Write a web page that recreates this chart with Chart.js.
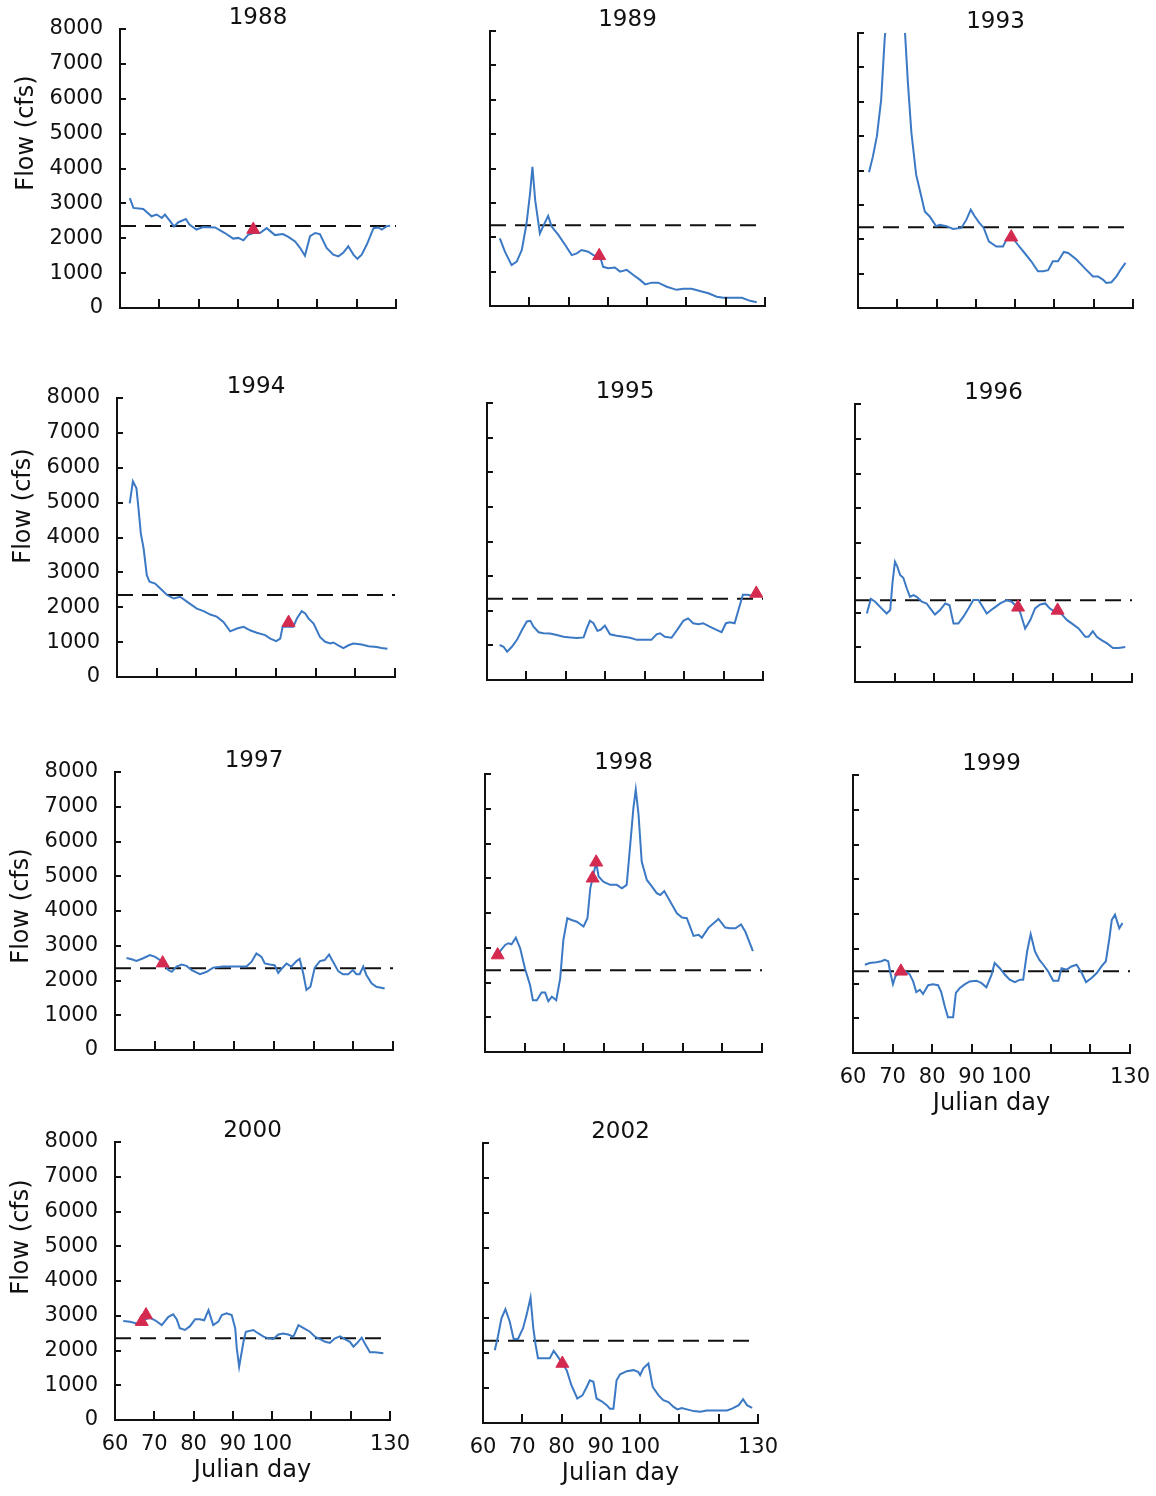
<!DOCTYPE html>
<html>
<head>
<meta charset="utf-8">
<title>Flow by Julian day</title>
<script src="https://cdn.jsdelivr.net/npm/chart.js@4.4.1/dist/chart.umd.min.js"></script>
<style>
  body { margin: 0; background: #fff; }
  #wrap { position: relative; width: 1156px; height: 1496px; overflow: hidden; }
  #wrap canvas { position: absolute; }
</style>
</head>
<body>
<div id="wrap"></div>
<script>
// flow (cfs) by Julian day, one list of [day, flow] per year
const threshold = 2350;
const xLabelDays = [60, 70, 80, 90, 100, 130];

const flow1988 = [[62.5,3150],[63.4,2870],[65.9,2840],[68,2630],[69.3,2680],[70.6,2580],[71.4,2680],[72.7,2490],[73.7,2340],[74.8,2460],[76.7,2550],[77.6,2390],[79.4,2250],[81.1,2320],[84.1,2310],[86.6,2150],[88.7,1990],[90,2010],[91.3,1940],[92.5,2100],[93.8,2150],[95.5,2150],[97.2,2290],[99.3,2090],[101.3,2120],[102.7,2040],[104.4,1910],[105.7,1720],[106.9,1500],[108.2,2060],[109.5,2150],[110.7,2120],[112.4,1720],[114.1,1530],[115.4,1480],[116.6,1580],[117.9,1770],[119.2,1530],[120.2,1410],[121.3,1530],[122.6,1820],[124.3,2290],[125.5,2310],[126.4,2250],[127.6,2340],[128.5,2360]];
const marks1988 = [[93.8,2250]];

const flow1989 = [[62.5,1970],[63.8,1580],[65.5,1190],[66.8,1290],[68.1,1630],[69.3,2400],[70.2,3280],[70.8,4050],[71.5,3080],[72.7,2110],[73.7,2360],[74.8,2620],[75.7,2310],[77.4,2070],[79.1,1780],[80.8,1480],[82.1,1530],[83.3,1630],[85,1580],[86.3,1480],[88,1440],[88.8,1140],[90.1,1100],[91.8,1120],[93.1,1000],[94.8,1050],[96.5,900],[98.2,760],[99.5,630],[101.2,680],[102.8,680],[105,560],[107.5,470],[109.2,500],[111.3,500],[113.9,420],[115.6,370],[117.7,270],[119.4,240],[121.9,240],[124.1,240],[126.2,150],[127.9,110]];
const marks1989 = [[87.8,1460]];

const flow1993 = [[62.8,3950],[63.8,4410],[64.8,4990],[65.9,6060],[66.8,7850],[69.5,11000],[72.0,7950],[72.7,6550],[73.6,5090],[74.8,3880],[76.1,3250],[77,2810],[78.2,2670],[79.1,2520],[79.9,2380],[80.8,2420],[82.5,2380],[84.2,2300],[86.3,2330],[87.6,2570],[88.7,2860],[89.7,2670],[90.8,2490],[92,2330],[93.3,1940],[95.2,1790],[96.9,1790],[97.8,1990],[99,2090],[100.7,1840],[102.4,1600],[104.1,1360],[105.8,1070],[107.1,1070],[108.4,1100],[109.6,1360],[110.9,1360],[112.4,1630],[113.5,1600],[115.6,1410],[117.7,1160],[119.8,920],[121.1,920],[122.4,820],[123.2,730],[124.5,750],[125.8,920],[127,1140],[128.1,1310]];
const marks1993 = [[99,2060]];

const flow1994 = [[63.2,4980],[64.0,5610],[64.9,5410],[65.4,4840],[66,4120],[66.7,3690],[67.5,2920],[68.2,2730],[69.6,2680],[70.9,2540],[72.6,2350],[74.3,2250],[75.9,2300],[77.6,2160],[80.1,1960],[81.8,1890],[83.5,1790],[85.1,1730],[86.8,1580],[88.5,1310],[90.2,1390],[91.9,1440],[93.5,1340],[95.2,1270],[97.3,1200],[98.6,1100],[100.1,1030],[101.1,1100],[101.7,1440],[102.8,1440],[104.4,1440],[105.3,1680],[106.5,1890],[107.4,1820],[108.2,1680],[109.5,1530],[111.1,1150],[112.4,1010],[113.7,960],[114.5,990],[115.7,910],[117,830],[118.3,910],[119.5,960],[121.6,930],[123.3,880],[125.4,860],[126.6,830],[128.1,810]];
const marks1994 = [[103.2,1560]];

const flow1995 = [[63.2,1010],[64.2,960],[65.1,820],[66.3,960],[67.6,1160],[68.9,1450],[70.1,1690],[71.0,1710],[71.8,1540],[73.1,1380],[74.3,1350],[76,1340],[77.7,1300],[79.4,1250],[81.1,1230],[82.8,1210],[84.5,1230],[85.3,1490],[86.1,1710],[87,1640],[88,1420],[88.8,1450],[89.9,1570],[91.2,1320],[92.9,1280],[94.6,1250],[96.3,1220],[98,1160],[99.6,1160],[101.7,1160],[103,1320],[103.9,1350],[105.1,1250],[106.8,1220],[108.5,1490],[109.8,1710],[111,1780],[112.3,1640],[113.6,1610],[114.8,1640],[116.5,1540],[118.2,1450],[119.5,1380],[120.6,1640],[121.6,1670],[122.8,1640],[123.9,2070],[124.9,2460],[126,2460],[127,2440]];
const marks1995 = [[128.3,2500]];

const flow1996 = [[63,1970],[64,2390],[65.1,2310],[66.7,2120],[68,1970],[68.9,2070],[69.5,2890],[70.1,3460],[70.7,3320],[71.4,3080],[72.2,3000],[73.1,2690],[73.9,2450],[74.8,2500],[75.6,2450],[76.9,2310],[78.1,2260],[79,2120],[80.2,1940],[81.5,2070],[82.8,2260],[83.9,2210],[84.9,1680],[86.1,1680],[87.4,1880],[88.7,2120],[89.9,2360],[91.2,2360],[93.3,1970],[95,2120],[96.7,2260],[98.4,2360],[99.6,2310],[100.9,2160],[101.7,2020],[103,1540],[104.3,1780],[105.5,2120],[106.8,2230],[108.1,2260],[109.2,2120],[110.2,2040],[111.2,2070],[112.3,1940],[113.6,1780],[115.2,1650],[116.5,1540],[118.2,1300],[119,1300],[120.1,1460],[121.1,1300],[122.4,1200],[123.7,1110],[125.2,980],[126.6,980],[128.3,1010]];
const marks1996 = [[101.2,2150],[111.2,2060]];

const flow1997 = [[62.9,2650],[64.2,2610],[65.4,2560],[67.1,2640],[68.8,2730],[70.1,2680],[71.3,2590],[72.6,2440],[73.4,2300],[74.3,2250],[75.5,2400],[76.8,2460],[78,2420],[79.3,2300],[81.4,2180],[83.1,2250],[84.7,2370],[87.2,2400],[89.8,2400],[93.1,2400],[94.4,2540],[95.6,2780],[96.9,2680],[97.7,2490],[99,2460],[100.2,2440],[101.1,2220],[101.9,2330],[103.2,2490],[104.4,2400],[105.7,2560],[106.5,2620],[107.4,2200],[108.2,1730],[109.2,1820],[110.3,2370],[111.6,2560],[112.8,2590],[113.9,2750],[114.9,2540],[116.2,2270],[117.4,2180],[118.7,2180],[119.9,2300],[120.8,2180],[121.6,2180],[122.5,2400],[123.3,2160],[124.6,1920],[125.8,1820],[127.9,1770]];
const marks1997 = [[72,2500]];

const flow1998 = [[63.4,2870],[63.8,2900],[65.1,3080],[65.9,3130],[66.7,3100],[67.8,3290],[68.9,2980],[70.1,2400],[71.4,1920],[72.1,1490],[73.1,1490],[74.3,1710],[75.2,1710],[76,1460],[76.9,1590],[78,1490],[79,2120],[79.8,3220],[80.8,3850],[81.9,3800],[83.2,3750],[84.9,3610],[85.9,3850],[86.6,4710],[87.2,5000],[88.1,5460],[88.7,5050],[89.9,4900],[91.6,4810],[93.3,4810],[94.6,4710],[95.8,4810],[96.7,5960],[97.5,7020],[98.1,7550],[98.8,6830],[99.6,5480],[100.9,4950],[102.2,4760],[103.4,4570],[104.3,4520],[105.3,4630],[106.8,4330],[108.5,3990],[109.8,3870],[111,3850],[112.7,3340],[114,3370],[114.8,3290],[116.5,3580],[118.2,3750],[119,3830],[120.7,3580],[121.9,3560],[123.3,3560],[124.7,3670],[125.8,3460],[127.7,2900]];
const marks1998 = [[63.2,2790],[87.2,5000],[88.1,5460]];

const flow1999 = [[63,2540],[64.2,2590],[65.9,2610],[67.2,2640],[68,2680],[68.9,2640],[69.4,2330],[70.1,1980],[70.7,2200],[71.8,2350],[73.1,2350],[74.3,2270],[75.2,2060],[76,1750],[76.9,1820],[77.7,1700],[79,1950],[80.2,1980],[81.5,1950],[82.3,1750],[83.2,1340],[84,1030],[85.3,1030],[86,1730],[87,1870],[88.3,1980],[89.5,2060],[91.2,2080],[92.5,2010],[93.7,1890],[95,2250],[95.8,2590],[97.1,2440],[98.4,2250],[99.6,2110],[100.9,2040],[102.2,2110],[103,2110],[104,2920],[104.9,3420],[106,2920],[107.1,2680],[108.1,2540],[109.3,2350],[110.6,2080],[111.9,2080],[112.7,2440],[114,2400],[115.2,2490],[116.5,2540],[117.8,2300],[118.9,2040],[120.3,2160],[121.6,2300],[122.8,2490],[123.9,2640],[124.8,3310],[125.4,3830],[126.2,3980],[127.3,3590],[128.1,3740]];
const marks1999 = [[72.1,2350]];

const flow2000 = [[62.1,2850],[63.8,2830],[65.5,2780],[66.8,2870],[68.9,2940],[70.2,2870],[71.9,2730],[73.6,2970],[74.8,3040],[75.7,2900],[76.5,2640],[77.8,2590],[79.1,2700],[80.4,2900],[81.6,2900],[82.7,2870],[83.8,3160],[85,2730],[86.3,2830],[87.2,3020],[88.4,3070],[89.7,3020],[90.6,2640],[91,2060],[91.6,1530],[92.7,2250],[93.3,2540],[95.2,2590],[96.5,2490],[97.8,2400],[99,2350],[100.3,2330],[101.6,2460],[102.8,2490],[104.1,2460],[105.4,2400],[106.7,2730],[107.9,2650],[109.6,2540],[110.9,2400],[112.2,2330],[113.5,2250],[114.7,2220],[116,2350],[117.3,2410],[118.5,2330],[119.8,2250],[120.7,2110],[121.5,2200],[122.8,2370],[123.6,2200],[124.9,1950],[126.2,1950],[128.3,1920]];
const marks2000 = [[66.8,2830],[67.9,3020]];

const flow2002 = [[63,2080],[63.8,2470],[64.7,2990],[65.7,3250],[66.8,2900],[67.8,2400],[68.9,2400],[70.2,2710],[71.1,3090],[72.1,3580],[72.8,2710],[73.4,2230],[74,1850],[75.3,1850],[77,1850],[78,2060],[79.1,1890],[80.2,1700],[81.3,1510],[82.5,1080],[84,700],[85.3,790],[86.4,1030],[87.2,1220],[88.1,1180],[88.9,700],[90.2,620],[91.5,510],[92.3,410],[93.2,410],[94,1220],[94.9,1390],[96.6,1480],[98.3,1510],[99.5,1460],[100,1370],[100.8,1560],[102.1,1700],[103.2,1030],[104.7,790],[105.9,650],[107.2,600],[108.5,460],[109.5,390],[110.6,430],[111.9,390],[113.6,340],[115.3,320],[117,360],[118.7,360],[120.4,360],[122.1,360],[123.4,410],[125.1,510],[126.2,680],[127.2,510],[128.5,430]];
const marks2002 = [[80.2,1700]];

// plot-area rectangles [left, top, right, bottom] on the page
const panels = [
  { year: '1988', flow: flow1988, marks: marks1988, box: [120, 29, 396, 308], yAxis: true, yTitleOff: 104 },
  { year: '1989', flow: flow1989, marks: marks1989, box: [490, 31, 765, 306] },
  { year: '1993', flow: flow1993, marks: marks1993, box: [858, 33, 1133, 308] },
  { year: '1994', flow: flow1994, marks: marks1994, box: [117, 398, 395, 677], yAxis: true, yTitleOff: 108 },
  { year: '1995', flow: flow1995, marks: marks1995, box: [487, 403, 763, 680] },
  { year: '1996', flow: flow1996, marks: marks1996, box: [855, 404, 1132, 682] },
  { year: '1997', flow: flow1997, marks: marks1997, box: [115, 772, 393, 1050], yAxis: true, yTitleOff: 134 },
  { year: '1998', flow: flow1998, marks: marks1998, box: [485, 774, 762, 1052] },
  { year: '1999', flow: flow1999, marks: marks1999, box: [853, 775, 1130, 1053], xAxis: true },
  { year: '2000', flow: flow2000, marks: marks2000, box: [115, 1142, 390, 1420], yAxis: true, xAxis: true, yTitleOff: 95 },
  { year: '2002', flow: flow2002, marks: marks2002, box: [483, 1143, 758, 1423], xAxis: true }
];

const FONT = '"DejaVu Sans", sans-serif';
const INK = '#111';
const LEFT_W = 115, RIGHT_PAD = 25, TOP_PAD = 40, BOTTOM_H = 80;

const toPoints = list => list.map(([x, y]) => ({ x, y }));

// inward tick marks, year heading and axis titles
const panelText = {
  id: 'panelText',
  afterDraw(chart, args, opts) {
    const { ctx, chartArea: a, scales: { x, y } } = chart;
    ctx.save();
    ctx.strokeStyle = '#111';
    ctx.lineWidth = 2;
    ctx.beginPath();
    y.ticks.forEach(t => {
      if (t.value <= 0) return;
      const py = Math.round(y.getPixelForValue(t.value));
      ctx.moveTo(a.left, py);
      ctx.lineTo(a.left + 6, py);
    });
    x.ticks.forEach(t => {
      if (t.value <= 60) return;
      const px = Math.round(x.getPixelForValue(t.value));
      ctx.moveTo(px, a.bottom);
      ctx.lineTo(px, a.bottom - 9);
    });
    ctx.stroke();

    ctx.fillStyle = INK;
    ctx.textAlign = 'center';
    ctx.textBaseline = 'middle';
    const cx = (a.left + a.right) / 2;
    ctx.font = '23px ' + FONT;
    ctx.fillText(opts.year, cx, a.top - 11);
    ctx.font = '24px ' + FONT;
    if (opts.xTitle) ctx.fillText('Julian day', cx, a.bottom + 51);
    if (opts.yTitle) {
      ctx.translate(a.left - 93, a.top + opts.yTitleOff);
      ctx.rotate(-Math.PI / 2);
      ctx.fillText('Flow (cfs)', 0, 0);
    }
    ctx.restore();
  }
};

const wrap = document.getElementById('wrap');

panels.forEach(p => {
  const [L, T, R, B] = p.box;
  const canvas = document.createElement('canvas');
  canvas.width = LEFT_W + (R - L) + RIGHT_PAD;
  canvas.height = TOP_PAD + (B - T) + BOTTOM_H;
  canvas.style.left = (L - LEFT_W) + 'px';
  canvas.style.top = (T - TOP_PAD) + 'px';
  wrap.appendChild(canvas);

  new Chart(canvas, {
    type: 'line',
    data: {
      datasets: [
        {
          data: toPoints(p.marks),
          showLine: false,
          pointStyle: 'triangle',
          pointRadius: 7.5,
          pointBackgroundColor: '#d52a50',
          pointBorderColor: '#d52a50',
          pointBorderWidth: 1
        },
        {
          data: toPoints(p.flow),
          borderColor: '#3b79c4',
          borderWidth: 2,
          pointRadius: 0,
          tension: 0
        },
        {
          data: [{ x: 60, y: threshold }, { x: 130, y: threshold }],
          borderColor: '#111',
          borderWidth: 2,
          borderDash: [16, 9],
          pointRadius: 0
        }
      ]
    },
    options: {
      responsive: false,
      animation: false,
      devicePixelRatio: 1,
      layout: { padding: { left: 0, top: TOP_PAD, right: RIGHT_PAD, bottom: 0 } },
      plugins: {
        legend: { display: false },
        tooltip: { enabled: false },
        panelText: { year: p.year, xTitle: !!p.xAxis, yTitle: !!p.yAxis, yTitleOff: p.yTitleOff }
      },
      scales: {
        x: {
          type: 'linear',
          min: 60,
          max: 130,
          afterFit: s => { s.height = BOTTOM_H; },
          grid: { display: false },
          border: { display: true, color: '#111', width: 2 },
          ticks: {
            stepSize: 10,
            autoSkip: false,
            maxRotation: 0,
            padding: 4,
            color: INK,
            font: { family: FONT, size: 21 },
            callback: v => (p.xAxis && xLabelDays.includes(v)) ? String(v) : ''
          }
        },
        y: {
          type: 'linear',
          min: 0,
          max: 8000,
          afterFit: s => { s.width = LEFT_W; },
          grid: { display: false },
          border: { display: true, color: '#111', width: 2 },
          ticks: {
            stepSize: 1000,
            padding: 9,
            color: INK,
            font: { family: FONT, size: 21 },
            callback: v => p.yAxis ? String(v) : ''
          }
        }
      }
    },
    plugins: [panelText]
  });
});
</script>
</body>
</html>
